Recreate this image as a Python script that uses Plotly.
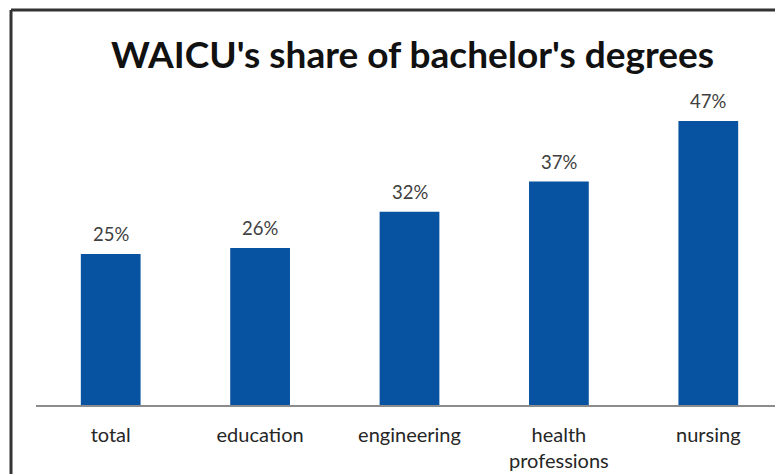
import plotly.graph_objects as go

categories = ["total", "education", "engineering", "health<br>professions", "nursing"]
shares = [0.25, 0.26, 0.32, 0.37, 0.47]
labels = ["25%", "26%", "32%", "37%", "47%"]

# the page body has an 8px offset, so the figure is sized to fill the rest of the window
W, H = 775, 466
ml, mr, mt, mb = 28, 0, 95, 69
pw, ph = W - ml - mr, H - mt - mb

fig = go.Figure(go.Bar(
    x=categories, y=shares,
    marker=dict(color="#0753a1", line=dict(width=0)),
    width=0.4,
))

for c, v, t in zip(categories, shares, labels):
    fig.add_annotation(x=c, y=v, text=t, showarrow=False,
                       yanchor="middle", yshift=20,
                       font=dict(family="Lato", size=18.5, color="#404040"))

bx = (3 - ml) / pw
by = 1 + (mt - 2) / ph
fig.update_layout(
    width=W, height=H,
    margin=dict(l=ml, r=mr, t=mt, b=mb, pad=0),
    paper_bgcolor="white", plot_bgcolor="white",
    showlegend=False,
    title=dict(text="<b>WAICU's share of bachelor's degrees</b>",
               x=404.5 / W, xanchor="center", y=1 - 47 / H, yanchor="middle",
               font=dict(family="Lato", size=37, color="#111111")),
    xaxis=dict(showline=True, linecolor="#8c8c8c", linewidth=2,
               showgrid=False, ticks="", ticklabelstandoff=11,
               tickfont=dict(family="Lato", size=20, color="#262626")),
    yaxis=dict(range=[0, 0.5], visible=False, showgrid=False),
    shapes=[
        dict(type="line", xref="paper", yref="paper",
             x0=bx, x1=1.01, y0=by, y1=by,
             line=dict(color="#333333", width=3)),
        dict(type="line", xref="paper", yref="paper",
             x0=bx, x1=bx, y0=-mb / ph - 0.02, y1=by,
             line=dict(color="#333333", width=3)),
    ],
)

fig.write_html("out.html")
